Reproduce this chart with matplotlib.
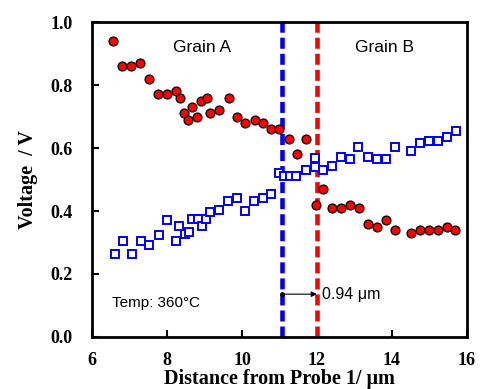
import numpy as np
import matplotlib
matplotlib.use("Agg")
import matplotlib.pyplot as plt

# red circles (upper series)
x_red = [6.57, 6.80, 7.04, 7.28, 7.53, 7.75, 7.99, 8.23, 8.36, 8.45, 8.57, 8.68,
         8.81, 8.92, 9.06, 9.16, 9.39, 9.65, 9.87, 10.09, 10.34, 10.55, 10.78, 10.99,
         11.26, 11.46, 11.72, 11.97, 12.17, 12.41, 12.65, 12.89, 13.11, 13.35, 13.59,
         13.84, 14.07, 14.52, 14.75, 14.99, 15.22, 15.46, 15.69]
y_red = [0.94, 0.86, 0.86, 0.87, 0.82, 0.77, 0.77, 0.78, 0.76, 0.71, 0.69, 0.73,
         0.70, 0.75, 0.76, 0.71, 0.72, 0.76, 0.70, 0.68, 0.69, 0.68, 0.66, 0.66,
         0.63, 0.58, 0.63, 0.42, 0.47, 0.41, 0.41, 0.42, 0.41, 0.36, 0.35,
         0.37, 0.34, 0.33, 0.34, 0.34, 0.34, 0.35, 0.34]

# blue open squares (lower series)
x_blue = [6.60, 6.83, 7.07, 7.31, 7.53, 7.78, 8.01, 8.23, 8.33, 8.47, 8.60, 8.68,
          8.82, 8.94, 9.05, 9.16, 9.38, 9.63, 9.88, 10.09, 10.33, 10.55, 10.77,
          11.00, 11.13, 11.28, 11.45, 11.72, 11.95, 11.95, 12.16, 12.40, 12.64,
          12.88, 13.10, 13.37, 13.59, 13.84, 14.08, 14.51, 14.75, 14.99, 15.24,
          15.48, 15.72]
y_blue = [0.262, 0.305, 0.262, 0.305, 0.292, 0.324, 0.372, 0.305, 0.353, 0.326,
          0.334, 0.374, 0.374, 0.352, 0.374, 0.396, 0.402, 0.433, 0.442, 0.401,
          0.433, 0.442, 0.454, 0.522, 0.511, 0.511, 0.511, 0.530, 0.540, 0.567,
          0.531, 0.542, 0.572, 0.564, 0.604, 0.572, 0.564, 0.564, 0.602, 0.591,
          0.615, 0.623, 0.623, 0.636, 0.654]

# boundary positions
x_boundary_blue = 11.06
x_boundary_red = 12.0

serif = "Liberation Serif"
sans = "Liberation Sans"

fig = plt.figure(figsize=(4.8, 3.89), dpi=100)
ax = fig.add_axes([0.1917, 0.1337, 0.781, 0.8097])

ax.plot(x_blue, y_blue, linestyle="none", marker="s", markersize=6,
        markerfacecolor="white", markeredgecolor="#0000ff", markeredgewidth=1.4,
        zorder=3)
ax.plot(x_red, y_red, linestyle="none", marker="o", markersize=6.4,
        markerfacecolor="#ff0000", markeredgecolor="black", markeredgewidth=0.9,
        zorder=4)

ax.axvline(x_boundary_blue, color="#0000ff", linewidth=3.3, dashes=(2.4, 1.1), zorder=2)
ax.axvline(x_boundary_red, color="#ff0000", linewidth=3.3, dashes=(2.4, 1.1), zorder=2)

# distance arrow between the boundaries
ax.annotate("", xy=(x_boundary_red, 0.136), xytext=(x_boundary_blue, 0.136),
            arrowprops=dict(arrowstyle="-|>", color="black", lw=0.8,
                            shrinkA=0, shrinkB=0, mutation_scale=8), zorder=5)
ax.plot([x_boundary_blue], [0.136], marker="o", markersize=2.5, color="black", zorder=5)
ax.text(12.13, 0.136, "0.94 \u03bcm", fontsize=11.5, family=sans, va="center", ha="left")

ax.text(8.93, 0.92, "Grain A", fontsize=12.5, family=sans, ha="center", va="center")
ax.text(13.8, 0.92, "Grain B", fontsize=12.5, family=sans, ha="center", va="center")
ax.text(6.52, 0.108, "Temp: 360\u00b0C", fontsize=11, family=sans, ha="left", va="center")

ax.set_xlim(6, 16)
ax.set_ylim(0, 1.0)
ax.set_xticks([6, 8, 10, 12, 14, 16])
ax.set_yticks([0.0, 0.2, 0.4, 0.6, 0.8, 1.0])
ax.set_yticklabels(["0.0", "0.2", "0.4", "0.6", "0.8", "1.0"])

for lab in ax.get_xticklabels() + ax.get_yticklabels():
    lab.set_fontfamily(serif)
    lab.set_fontweight("bold")
    lab.set_fontsize(13)

ax.tick_params(direction="in", length=5, width=1.5)
ax.tick_params(axis="x", pad=11)
ax.tick_params(axis="y", pad=14)
for s in ax.spines.values():
    s.set_linewidth(2.0)

ax.set_xlabel("Distance from Probe 1/ \u03bcm", fontsize=14.5, family=serif,
              fontweight="bold", labelpad=0)
ax.set_ylabel("Voltage  / V", fontsize=14.5, family=serif, fontweight="bold",
              labelpad=9)

fig.savefig("out.png", dpi=100)
